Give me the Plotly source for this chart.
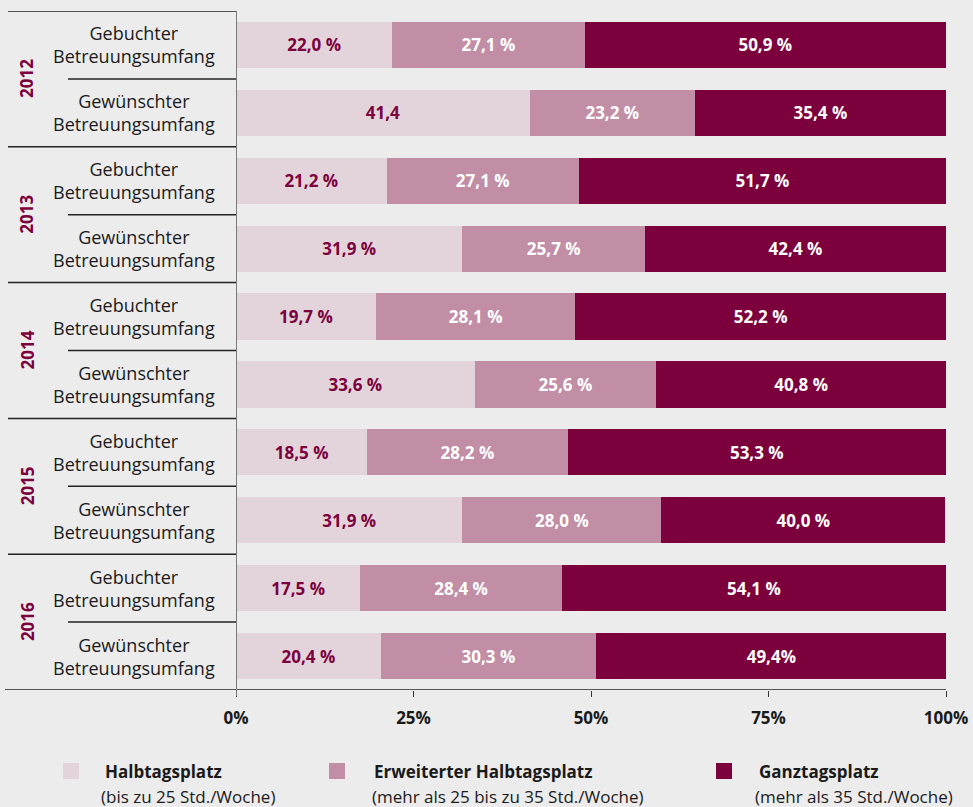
import plotly.graph_objects as go

years = ["2012", "2013", "2014", "2015", "2016"]
row_labels = ["Gebuchter<br>Betreuungsumfang", "Gewünschter<br>Betreuungsumfang"]

halbtag = [22.0, 41.4, 21.2, 31.9, 19.7, 33.6, 18.5, 31.9, 17.5, 20.4]
erweitert = [27.1, 23.2, 27.1, 25.7, 28.1, 25.6, 28.2, 28.0, 28.4, 30.3]
ganztag = [50.9, 35.4, 51.7, 42.4, 52.2, 40.8, 53.3, 40.0, 54.1, 49.4]

halbtag_text = ["22,0 %", "41,4", "21,2 %", "31,9 %", "19,7 %", "33,6 %", "18,5 %", "31,9 %", "17,5 %", "20,4 %"]
erweitert_text = ["27,1 %", "23,2 %", "27,1 %", "25,7 %", "28,1 %", "25,6 %", "28,2 %", "28,0 %", "28,4 %", "30,3 %"]
ganztag_text = ["50,9 %", "35,4 %", "51,7 %", "42,4 %", "52,2 %", "40,8 %", "53,3 %", "40,0 %", "54,1 %", "49,4%"]

series_names = ["Halbtagsplatz", "Erweiterter Halbtagsplatz", "Ganztagsplatz"]
series_sub = ["(bis zu 25 Std./Woche)", "(mehr als 25 bis zu 35 Std./Woche)", "(mehr als 35 Std./Woche)"]

x_ticks = [0, 25, 50, 75, 100]
x_ticktext = ["0%", "25%", "50%", "75%", "100%"]

C_LIGHT = "#e3d4dc"
C_MID = "#c18ea6"
C_DARK = "#7c003c"
BG = "#ececec"
FONT = "Open Sans"

# layout geometry (pixels)
W, H = 973, 807
L, R, T, B = 236, 946, 11, 690
PW, PH = R - L, B - T


def px(xp):
    return (xp - L) / PW


def py(yp):
    return (B - yp) / PH


n = len(halbtag)
ypos = list(range(n))

fig = go.Figure()
for vals, txt, col, tcol, name in [
    (halbtag, halbtag_text, C_LIGHT, C_DARK, series_names[0]),
    (erweitert, erweitert_text, C_MID, "white", series_names[1]),
    (ganztag, ganztag_text, C_DARK, "white", series_names[2]),
]:
    fig.add_trace(go.Bar(
        x=vals, y=ypos, orientation="h", name=name,
        marker=dict(color=col, line=dict(width=0)),
        text=txt, textposition="inside", insidetextanchor="middle",
        textfont=dict(color=tcol, size=17, family=FONT, weight="bold"),
        width=0.68, hoverinfo="skip", showlegend=False,
    ))

shapes = []
annotations = []

for gi, yr in enumerate(years):
    for ri, lab in enumerate(row_labels):
        idx = gi * 2 + ri
        annotations.append(dict(
            x=px(134), y=idx, xref="paper", yref="y", text=lab,
            showarrow=False, xanchor="center", yanchor="middle", align="center",
            font=dict(family=FONT, size=18, color="#1a1a1a"),
        ))
    annotations.append(dict(
        x=px(27), y=gi * 2 + 0.5, xref="paper", yref="y", text="<b>" + yr + "</b>",
        showarrow=False, textangle=-90, xanchor="center", yanchor="middle",
        font=dict(family=FONT, size=17, color=C_DARK),
    ))
    shapes.append(dict(type="line", xref="paper", yref="y", x0=px(8), x1=0,
                       y0=gi * 2 - 0.5, y1=gi * 2 - 0.5, line=dict(color="#222", width=1.5)))
    shapes.append(dict(type="line", xref="paper", yref="y", x0=px(68), x1=0,
                       y0=gi * 2 + 0.5, y1=gi * 2 + 0.5, line=dict(color="#222", width=1.5)))

shapes.append(dict(type="line", xref="paper", yref="y", x0=px(5), x1=1,
                   y0=n - 0.5, y1=n - 0.5, line=dict(color="#222", width=1.5)))
shapes.append(dict(type="line", xref="x", yref="paper", x0=0, x1=0,
                   y0=py(696), y1=py(11), line=dict(color="#7a7a7a", width=2)))

leg = [(63, 103, 99, C_LIGHT), (329, 372, 370, C_MID), (716, 757, 753, C_DARK)]
for (sx, nx, subx, col), nm, sub in zip(leg, series_names, series_sub):
    shapes.append(dict(type="rect", xref="paper", yref="paper",
                       x0=px(sx), x1=px(sx + 16), y0=py(779), y1=py(763),
                       fillcolor=col, line=dict(width=0)))
    annotations.append(dict(x=px(nx), y=py(771), xref="paper", yref="paper",
                            text="<b>" + nm + "</b>", showarrow=False,
                            xanchor="left", yanchor="middle",
                            font=dict(family=FONT, size=17, color="#1a1a1a")))
    annotations.append(dict(x=px(subx), y=py(797), xref="paper", yref="paper",
                            text=sub, showarrow=False,
                            xanchor="left", yanchor="middle",
                            font=dict(family=FONT, size=17, color="#1a1a1a")))

fig.update_layout(
    barmode="stack",
    width=W, height=H, autosize=False,
    margin=dict(l=L, r=W - R, t=T, b=H - B, pad=0, autoexpand=False),
    paper_bgcolor=BG, plot_bgcolor=BG,
    font=dict(family=FONT, color="#1a1a1a"),
    shapes=shapes, annotations=annotations,
    xaxis=dict(range=[0, 100], tickvals=x_ticks, ticktext=x_ticktext,
               ticks="outside", ticklen=6, tickwidth=1, tickcolor="#333",
               showgrid=False, zeroline=False, showline=False, automargin=False,
               tickfont=dict(family=FONT, size=17, weight="bold", color="#1a1a1a"),
               ticklabelstandoff=7, fixedrange=True),
    yaxis=dict(range=[n - 0.5, -0.5], showticklabels=False, showgrid=False,
               zeroline=False, showline=False, ticks="", fixedrange=True,
               automargin=False),
)

fig.write_html(
    "out.html",
    config={"displayModeBar": False},
    post_script="document.body.style.margin='0';document.body.style.background='#ececec';document.body.style.overflow='hidden';",
)
